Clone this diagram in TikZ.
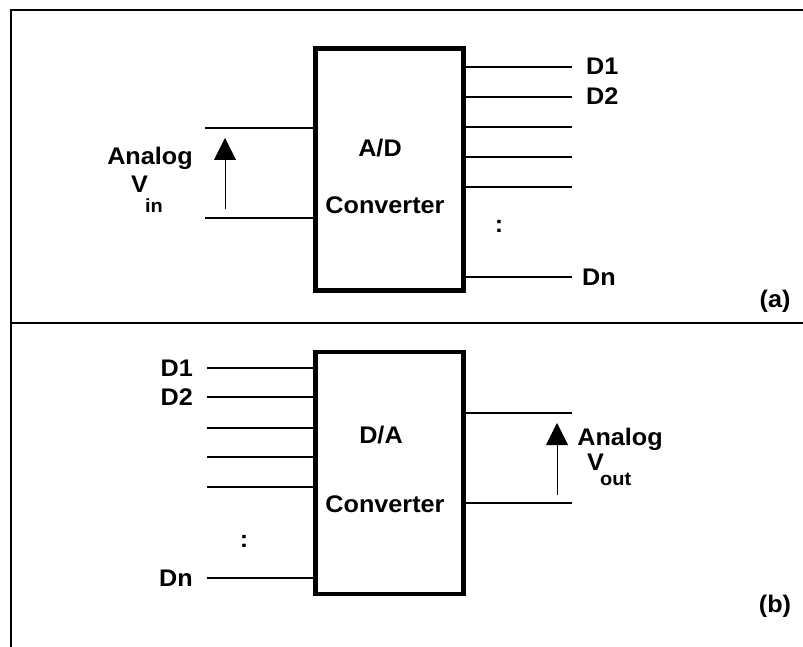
\documentclass[tikz,border=0pt]{standalone}
\usepackage{fontspec}
\usetikzlibrary{arrows.meta}
\newfontfamily\lblfamily{Liberation Sans}[FakeStretch=1.05]
\newcommand{\lblfont}{\lblfamily\bfseries\fontsize{24}{27}\selectfont}
\newcommand{\subfontx}{\lblfamily\bfseries\fontsize{19}{21}\selectfont}
\begin{document}
\begin{tikzpicture}[x=1pt,y=-1pt,
  lbl/.style={font=\lblfont, inner sep=0pt},
  sublbl/.style={font=\subfontx, inner sep=0pt},
  blk/.style={draw, line width=4.5pt, minimum width=148pt, minimum height=242pt, inner sep=0pt},
  wire/.style={line width=2.2pt},
  framel/.style={line width=2.5pt},
  sig/.style={line width=1pt, -{Triangle[width=22pt,length=22pt]}}]
\useasboundingbox (0,0) rectangle (803,647);

% frame
\coordinate (ftl) at (11,10);
\coordinate (ftr) at (803,10);
\coordinate (fbl) at (11,647);
\coordinate (fml) at (11,323);
\coordinate (fmr) at (803,323);
\draw[framel] (fbl) -- (ftl) -- (ftr);
\draw[framel] (fml) -- (fmr);

% ---------- (a) A/D ----------
\node[blk] (ad) at (389.5,169.5) {};
\node[lbl, anchor=base] (adt) at (380,157) {A/D};
\node[lbl, anchor=base] (adc) at (385,214) {Converter};

\coordinate (ai1) at (205,128);
\coordinate (ai2) at (205,218);
\draw[wire] (ai1) -- (ai1 -| ad.west);
\draw[wire] (ai2) -- (ai2 -| ad.west);
\coordinate (aas) at (225,209);
\coordinate (aae) at (225,138);
\draw[sig] (aas) -- (aae);
\node[lbl, anchor=base] (aan) at (150,165) {Analog};
\node[lbl, anchor=base west] (av) at (131,193) {V};
\node[sublbl, anchor=base west] (avi) at (145,212) {in};

\foreach \y/\n in {67/1,97/2,127/3,157/4,187/5,277/6}{
  \coordinate (ao\n) at (572,\y);
  \draw[wire] (ao\n -| ad.east) -- (ao\n);
}
\node[lbl, anchor=base west] (ad1) at (586,75) {D1};
\node[lbl, anchor=base west] (ad2) at (586,105) {D2};
\node[lbl, anchor=base west] (adn) at (582,285) {Dn};
\node[lbl] (adots) at (499,226) {:};
\node[lbl] (alab) at (775,301) {(a)};

% ---------- (b) D/A ----------
\node[blk] (da) at (389.5,473) {};
\node[lbl, anchor=base] (dat) at (381,443) {D/A};
\node[lbl, anchor=base] (dac) at (385,512) {Converter};

\foreach \y/\n in {368/1,397/2,428/3,457/4,487/5,578/6}{
  \coordinate (bi\n) at (207,\y);
  \draw[wire] (bi\n) -- (bi\n -| da.west);
}
\node[lbl, anchor=base east] (bd1) at (193,376) {D1};
\node[lbl, anchor=base east] (bd2) at (193,405) {D2};
\node[lbl, anchor=base east] (bdn) at (193,586) {Dn};
\node[lbl] (bdots) at (244,541) {:};

\coordinate (bo1) at (572,413);
\coordinate (bo2) at (572,503);
\draw[wire] (bo1 -| da.east) -- (bo1);
\draw[wire] (bo2 -| da.east) -- (bo2);
\coordinate (bas) at (557,495);
\coordinate (bae) at (557,423);
\draw[sig] (bas) -- (bae);
\node[lbl, anchor=base] (ban) at (620,445) {Analog};
\node[lbl, anchor=base west] (bv) at (587,470) {V};
\node[sublbl, anchor=base west] (bvo) at (600,485) {out};
\node[lbl] (blab) at (775,606) {(b)};
\end{tikzpicture}
\end{document}
